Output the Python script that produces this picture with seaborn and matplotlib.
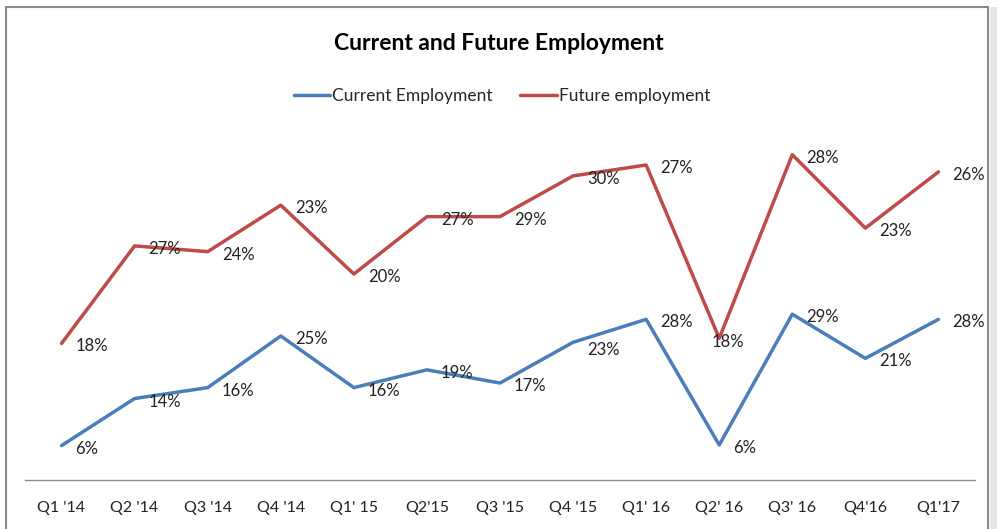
import matplotlib
matplotlib.use("Agg")
import matplotlib.pyplot as plt
from matplotlib.patches import Rectangle
import pandas as pd
import seaborn as sns

# chart data
quarters = ["Q1 '14", "Q2 '14", "Q3 '14", "Q4 '14", "Q1' 15", "Q2'15", "Q3 '15",
            "Q4 '15", "Q1' 16", "Q2' 16", "Q3' 16", "Q4'16", "Q1'17"]
current = [6.0, 14.2, 16.1, 25.1, 16.1, 19.2, 16.9, 24.0, 28.0, 6.1, 28.9, 21.2, 28.0]
future = [23.8, 40.8, 39.8, 47.9, 35.9, 45.9, 45.9, 53.0, 54.9, 24.7, 56.7, 43.9, 53.7]
current_labels = ["6%", "14%", "16%", "25%", "16%", "19%", "17%", "23%", "28%", "6%", "29%", "21%", "28%"]
future_labels = ["18%", "27%", "24%", "23%", "20%", "27%", "29%", "30%", "27%", "18%", "28%", "23%", "26%"]

df = pd.DataFrame({
    "Quarter": quarters * 2,
    "Value": current + future,
    "Series": ["Current Employment"] * len(quarters) + ["Future employment"] * len(quarters),
})

sns.set_style("white")
plt.rcParams["font.family"] = ["Lato", "DejaVu Sans"]

fig = plt.figure(figsize=(9.97, 5.29), dpi=100)
ax = fig.add_axes([25 / 997, (529 - 480) / 529, 950 / 997, 350 / 529])

palette = {"Current Employment": "#4A7EBB", "Future employment": "#BE4B48"}
sns.lineplot(data=df, x="Quarter", y="Value", hue="Series", palette=palette,
             sort=False, linewidth=2.5, ax=ax)

ax.set_xlim(-0.5, len(quarters) - 0.5)
ax.set_ylim(0, 61)
ax.set_yticks([])
ax.set_xlabel("")
ax.set_ylabel("")
for s in ["top", "left", "right"]:
    ax.spines[s].set_visible(False)
ax.spines["bottom"].set_color("#8c8c8c")
ax.spines["bottom"].set_linewidth(1.0)
ax.tick_params(axis="x", length=0, pad=15, labelsize=11.5, labelcolor="#222222")

# data labels
for i in range(len(quarters)):
    dy = -8 if i == 7 else -3
    ax.annotate(current_labels[i], (i, current[i]), xytext=(14, dy), textcoords="offset pixels",
                ha="left", va="center", fontsize=12, color="#222222")
    if i == 9:
        off = (-8, -4)
    else:
        off = (14, -3)
    ax.annotate(future_labels[i], (i, future[i]), xytext=off, textcoords="offset pixels",
                ha="left", va="center", fontsize=12, color="#222222")

handles, labels = ax.get_legend_handles_labels()
ax.legend(handles, labels, loc="center", bbox_to_anchor=(502 / 997, 1 - 96 / 529),
          bbox_transform=fig.transFigure, ncol=2, frameon=False, fontsize=12.5,
          handlelength=2.1, handletextpad=0.1, columnspacing=1.6)

fig.text(499 / 997, 1 - 44 / 529, "Current and Future Employment", ha="center", va="center",
         fontsize=16.5, fontweight="bold", color="#000000")

# frame around the chart
fig.patches.append(Rectangle((6 / 997, -0.05), 982 / 997, 1 - 7 / 529 + 0.05,
                             transform=fig.transFigure, fill=False, edgecolor="#8a8a8a",
                             linewidth=1.5))
fig.patches.append(Rectangle((990 / 997, 0), 7 / 997, 1 - 7 / 529,
                             transform=fig.transFigure, facecolor="#e6e6e6", edgecolor="none"))

fig.savefig("out.png", dpi=100)
